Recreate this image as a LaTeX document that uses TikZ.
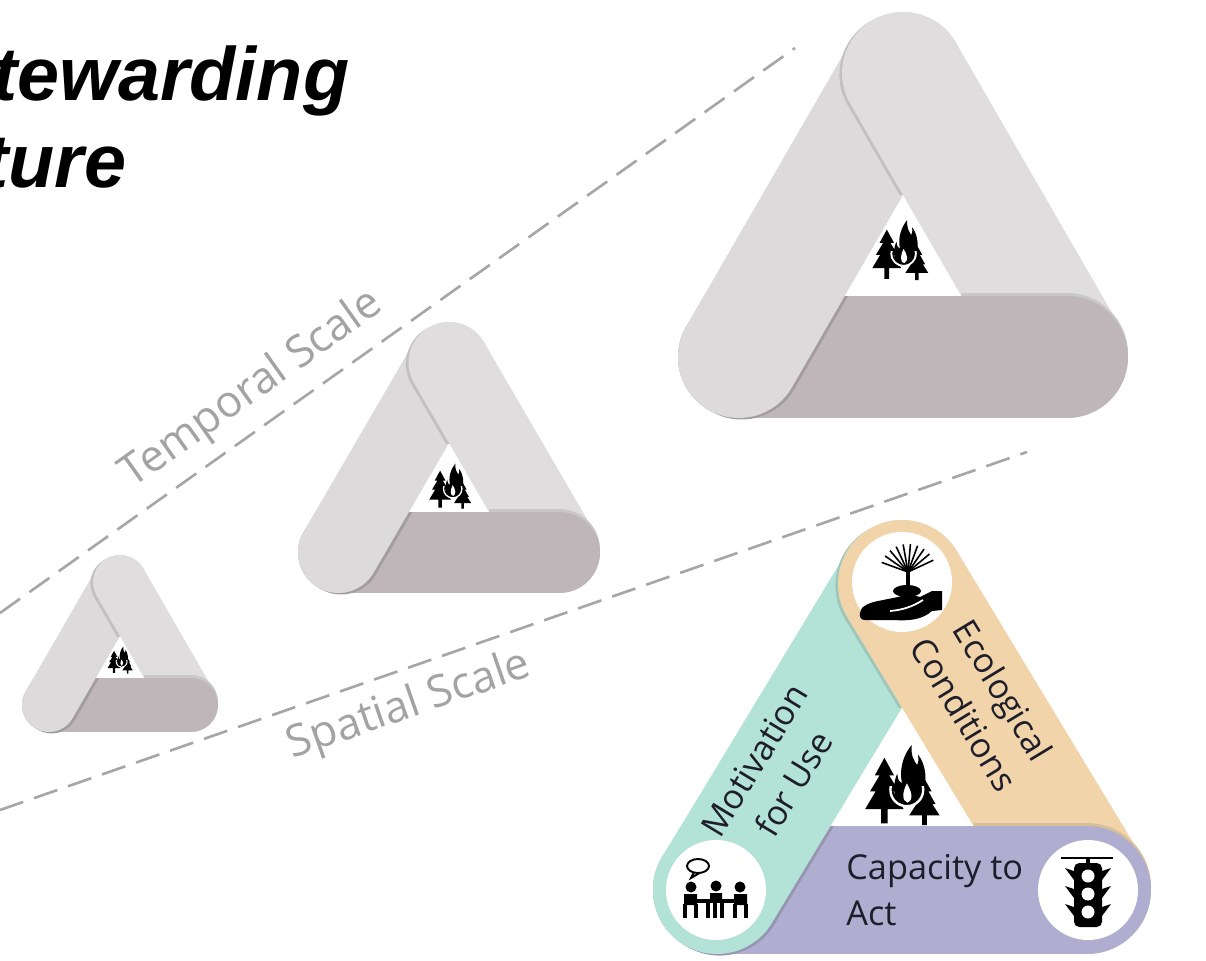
\documentclass[tikz,border=0pt]{standalone}
\usepackage{fontspec}
\setmainfont{Open Sans}
\newfontfamily\headfont{Liberation Sans}

\definecolor{greyL}{HTML}{DCDADB}
\definecolor{greyR}{HTML}{DFDDDE}
\definecolor{greyB}{HTML}{BEB6B9}
\definecolor{motiv}{HTML}{B3E2D6}
\definecolor{ecol}{HTML}{F1D4AA}
\definecolor{capac}{HTML}{AFAED0}
\definecolor{dashgrey}{HTML}{A6A6A6}
\definecolor{scalegrey}{HTML}{A3A3A3}
\definecolor{ink}{HTML}{1E1E2A}

% three bands round a triangle, each one passing over the next
% #1,#2 lower left cap centre, #3 side, #4 height, #5 band width,
% #6 left band, #7 right band, #8 lower band
\newcommand{\triad}[8]{%
  \pgfmathsetmacro\legL{100*sqrt((#3/200)^2+(#4/100)^2)}%
  \pgfmathsetmacro\nx{#4/\legL}%
  \pgfmathsetmacro\ny{#3/2/\legL}%
  \pgfmathsetmacro\bw{#5*0.569055}%
  \pgfmathsetmacro\baseY{#2-#5/2}%
  \pgfmathsetmacro\apexY{#2+#5/2*\ny-(1-(#5/\legL)*(#4/#3))*#4}%
  \pgfmathsetmacro\tb{(#5/2+#5/2*\ny)/#4}%
  \pgfmathsetmacro\baseR{#1+#3-#5/2*\nx-\tb*#3/2}%
  \pgfmathsetmacro\tx{#1+#3/2}%
  \pgfmathsetmacro\ty{#2-#4}%
  \pgfmathsetmacro\rx{#1+#3}%
  \begin{scope}[line width=\bw pt, line cap=round]
    \draw[#6] (#1,#2) -- (\tx,\ty);
    \begin{scope}
      \clip (#1-#5,\ty-#5) rectangle (\rx+#5,\apexY);
      \draw[#6!88!black, shift={(-3*\nx,3*\ny)}] (\tx,\ty) -- (\rx,#2);
    \end{scope}
    \draw[#7] (\tx,\ty) -- (\rx,#2);
    \begin{scope}
      \clip (\baseR,\ty-#5) rectangle (\rx+#5,#2+#5);
      \draw[#7!90!black, shift={(0,-3)}] (#1,#2) -- (\rx,#2);
    \end{scope}
    \draw[#8] (#1,#2) -- (\rx,#2);
    \begin{scope}
      \clip (#1-#5,\baseY) rectangle (\tx,#2+#5);
      \draw[#8!86!black, shift={(3*\nx,3*\ny)}] (#1,#2) -- (\tx,\ty);
      \draw[#6] (#1,#2) -- (\tx,\ty);
    \end{scope}
  \end{scope}
}

\tikzset{
  fireicon/.pic={
    % left pine
    \fill (-22,-34) -- (-34,-12) -- (-28,-12) -- (-40,8) -- (-33,8) -- (-46,30) -- (-26,30)
      -- (-26,48) -- (-18,48) -- (-18,30) -- (2,30) -- (-11,8) -- (-4,8) -- (-16,-12) -- (-10,-12) -- cycle;
    % right pine
    \fill (28,-8) -- (19,8) -- (23,8) -- (14,24) -- (18,24) -- (9,38) -- (25,38) -- (25,50)
      -- (31,50) -- (31,38) -- (47,38) -- (38,24) -- (42,24) -- (33,8) -- (37,8) -- cycle;
    % flame
    \fill (6,26) .. controls (-10,24) and (-14,4) .. (-6,-14) .. controls (-5,-6) and (-3,-3) .. (0,-2)
      .. controls (-4,-20) and (2,-38) .. (12,-50) .. controls (11,-36) and (15,-30) .. (19,-25)
      .. controls (21,-30) and (21,-34) .. (20,-38) .. controls (30,-26) and (32,-4) .. (26,8)
      .. controls (22,18) and (15,26) .. (6,26) -- cycle;
    \fill[white] (7,22) .. controls (0,20) and (0,10) .. (6,-2) .. controls (12,8) and (15,18) .. (7,22) -- cycle;
    \begin{scope}
      \clip (-30,2) rectangle (40,40);
      \fill[white, even odd rule] (6,6) circle[radius=22] (6,6) circle[radius=19];
    \end{scope}
  },
  handplant/.pic={
    \foreach \a in {-160,-145,-130,-115,-100,-85,-70,-55,-40,-25}
      \draw[line width=0.9pt] (6,-10) -- ++(\a:28);
    \draw[line width=1.8pt] (6,8) -- (6,-10);
    \fill (5,9) ellipse[x radius=14, y radius=6];
    \fill (-42,31) .. controls (-42,25) and (-34,21) .. (-24,19) -- (-4,15) .. controls (4,12) and (12,13) .. (18,15)
      -- (30,9) -- (40,9) -- (40,28) -- (30,29) .. controls (20,38) and (6,39) .. (-8,38) -- (-37,38)
      .. controls (-41,38) and (-43,35) .. (-42,31) -- cycle;
    \draw[white, line width=1pt] (-12,29) .. controls (0,28) and (10,25) .. (21,18);
  },
  meeting/.pic={
    \draw[line width=1.1pt] (-18,-24) ellipse[x radius=11, y radius=7];
    \draw[line width=1.1pt] (-22,-17.8) -- (-25,-12) -- (-16,-17.3);
    \fill (-25,-3) circle[radius=5.5] (0,-4) circle[radius=5.5] (24,-3) circle[radius=5.5];
    \fill (-32,4) rectangle (-19,15) (18,4) rectangle (31,15) (-6,3) rectangle (6,10);
    \fill (-20,9) rectangle (20,13);
    \draw[line width=1.8pt] (-31,14) -- (-31,28) (-20,14) -- (-20,28) (30,14) -- (30,28) (19,14) -- (19,28)
      (-8,12) -- (-8,28) (-1,12) -- (-1,28) (6,12) -- (6,28);
  },
  signal/.pic={
    \draw[line width=1.4pt] (-27,-32) -- (25,-32);
    \fill (-2,-32) rectangle (2,-26);
    \fill[rounded corners=3] (-14,-27) rectangle (14,37);
    \foreach \yy in {-14,4,22} {
      \fill (-14,\yy-5) -- (-23,\yy-8) -- (-14,\yy+4) -- cycle;
      \fill (14,\yy-5) -- (23,\yy-8) -- (14,\yy+4) -- cycle;
      \fill[white] (0,\yy) circle[radius=6.5];
    }
  }
}

\begin{document}
\begin{tikzpicture}[x=0.02cm, y=-0.02cm,
    scaleline/.style={dashgrey, line width=1.5pt, dash pattern=on 14pt off 6.5pt},
    scalelabel/.style={font=\fontsize{25}{25}\selectfont, text=scalegrey, inner sep=0},
    bandlabel/.style={font=\fontsize{19.5}{26}\selectfont, text=ink, inner sep=0},
    headline/.style={font=\headfont\bfseries\itshape\fontsize{43}{43}\selectfont, inner sep=0, anchor=base west}
  ]
  \useasboundingbox (0,0) rectangle (1206,960);
  \clip (0,0) rectangle (1206,960);

  \node[headline] (headA) at (-8,100) {tewarding};
  \node[headline] (headB) at (-17,187) {ture};

  % the two scale axes
  \coordinate (timeA) at (0,613);
  \coordinate (timeB) at (795,48);
  \coordinate (spaceA) at (0,810);
  \coordinate (spaceB) at (1027,452);
  \draw[scaleline] (timeA) -- (timeB);
  \draw[scaleline] (spaceA) -- (spaceB);
  \node[scalelabel, rotate=35.4, anchor=base] (temporal) at (259,399) {Temporal Scale};
  \node[scalelabel, rotate=19.2, anchor=base] (spatial) at (413,717) {Spatial Scale};

  % grey triangles, small to large
  \triad{49}{705}{142}{123}{54}{greyL}{greyR}{greyB}
  \pic[scale=0.27] at (120,660) {fireicon};
  \triad{338.5}{552.5}{221}{190}{81}{greyL}{greyR}{greyB}
  \pic[scale=0.45] at (450,486) {fireicon};
  \triad{739}{357}{328}{284}{122}{greyL}{greyR}{greyB}
  \pic[scale=0.6] at (900,250) {fireicon};

  % coloured triangle
  \triad{717}{890}{370}{306}{128}{motiv}{ecol}{capac}
  \pic[scale=0.8] at (902,785) {fireicon};
  \fill[white] (902,582) circle[radius=50];
  \fill[white] (716,890) circle[radius=50];
  \fill[white] (1088,890) circle[radius=50];
  \pic at (902,582) {handplant};
  \pic at (716,890) {meeting};
  \pic at (1088,890) {signal};

  \node[bandlabel, rotate=58.8, align=center] (motive) at (774,772) {Motivation\\for Use};
  \node[bandlabel, rotate=-58.8, align=center] (ecolabel) at (984,702) {Ecological\\Conditions};
  \node[bandlabel, align=left, anchor=north west] (capacity) at (846,854) {Capacity to\\Act};
\end{tikzpicture}
\end{document}
